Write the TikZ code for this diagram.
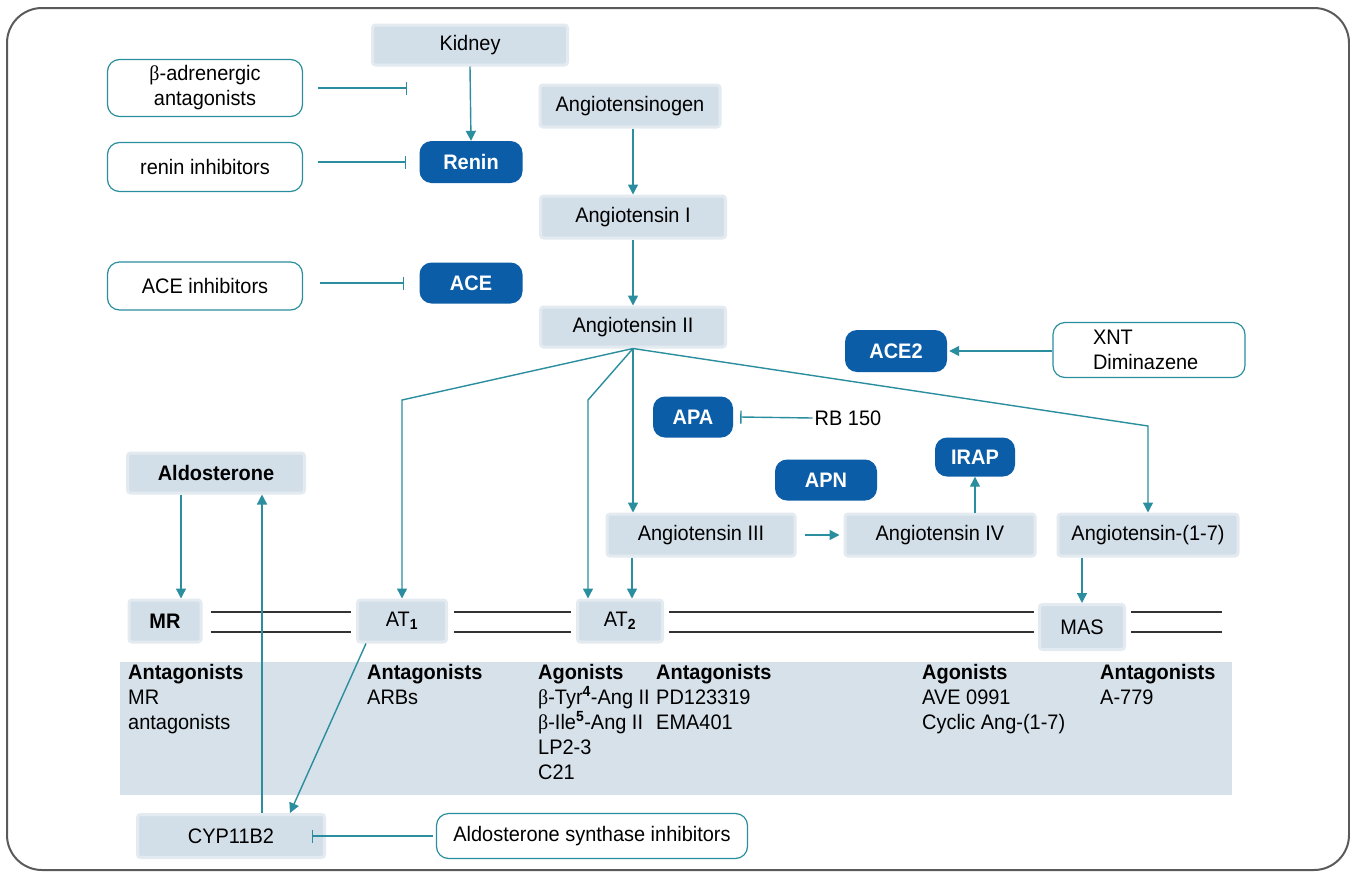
\documentclass[tikz,border=0pt]{standalone}
\usepackage{fontspec}
\setmainfont{Liberation Sans}[FakeStretch=0.95]
\newfontfamily\grk{Liberation Serif}[FakeStretch=0.95]
\usetikzlibrary{arrows.meta}
\newcommand\labelsize{\fontsize{21}{25}\selectfont}
\definecolor{enzyme}{HTML}{0B5DA8}
\definecolor{flow}{HTML}{2A8E9E}
\definecolor{pale}{HTML}{D3DFE8}
\definecolor{palehalo}{HTML}{E3EBF1}
\definecolor{panelfill}{HTML}{D6E1EA}
\definecolor{framecol}{HTML}{5A5A5A}
\tikzset{
  lbox/.style={fill=pale, draw=palehalo, line width=3pt, rounded corners=3pt,
    inner sep=0pt, align=center},
  dbox/.style={fill=enzyme, text=white, font=\labelsize\bfseries, rounded corners=12pt,
    inner sep=0pt, align=center},
  obox/.style={draw=flow, line width=1.2pt, fill=white, rounded corners=12pt,
    inner sep=0pt, align=center},
  arr/.style={draw=flow, line width=1.4pt, -{Triangle[length=10pt,width=10pt]}},
  inh/.style={draw=flow, line width=1.4pt, -{Bar[width=13pt,line width=1.4pt]}},
  memb/.style={draw=black!80, line width=1.4pt},
  coltext/.style={anchor=north west, align=left, inner sep=0pt}
}
\begin{document}
\begin{tikzpicture}[x=1pt, y=-1pt, font=\labelsize]
\useasboundingbox (0,0) rectangle (1350,873);
\fill[white] (0,0) rectangle (1350,873);
\draw[framecol, line width=2pt, rounded corners=35pt] (7,8) rectangle (1349,870);

% lower panel of receptor ligands
\fill[panelfill] (120,662) rectangle (1232,795);

% renin / ACE axis
\node[lbox, minimum width=195pt, minimum height=40pt] (kidney) at (470,45) {Kidney};
\node[obox, minimum width=195pt, minimum height=57pt] (beta) at (205,88) {{\grk β}-adrenergic\\antagonists};
\node[obox, minimum width=195pt, minimum height=49pt] (renininh) at (205,167) {renin inhibitors};
\node[dbox, minimum width=103pt, minimum height=42pt] (renin) at (471,162) {Renin};
\node[lbox, minimum width=180pt, minimum height=42pt] (agen) at (630,106) {Angiotensinogen};
\node[lbox, minimum width=185pt, minimum height=42pt] (angI) at (633,217) {Angiotensin I};
\node[obox, minimum width=195pt, minimum height=48pt] (aceinh) at (205,286) {ACE inhibitors};
\node[dbox, minimum width=103pt, minimum height=41pt] (ace) at (471,283) {ACE};
\node[lbox, minimum width=185pt, minimum height=40pt] (angII) at (633,327) {Angiotensin II};
\node[dbox, minimum width=102pt, minimum height=42pt] (ace2) at (896,351) {ACE2};
\node[obox, minimum height=55pt, text width=112pt, inner xsep=40pt, align=left] (xnt) at (1149,350) {XNT\\Diminazene};

% peptidases and metabolites
\node[dbox, minimum width=80pt, minimum height=41pt] (apa) at (693,417) {APA};
\node[inner sep=0pt] (rb) at (848,418) {RB 150};
\node[dbox, minimum width=80pt, minimum height=39pt] (irap) at (975,457) {IRAP};
\node[dbox, minimum width=102pt, minimum height=41pt] (apn) at (826,480) {APN};
\node[lbox, minimum width=177pt, minimum height=40pt, font=\labelsize\bfseries] (aldo) at (216,473) {Aldosterone};
\node[lbox, minimum width=188pt, minimum height=42pt] (angIII) at (701,535) {Angiotensin III};
\node[lbox, minimum width=190pt, minimum height=42pt] (angIV) at (940,535) {Angiotensin IV};
\node[lbox, minimum width=180pt, minimum height=42pt] (ang17) at (1148,535) {Angiotensin-(1-7)};

% membrane with receptors
\coordinate (mtop) at (0,612);
\coordinate (mbot) at (0,632);
\coordinate (mend) at (1222,612);
\node[lbox, minimum width=72pt, minimum height=42pt, font=\labelsize\bfseries] (mr) at (165,621) {MR};
\node[lbox, minimum width=89pt, minimum height=42pt] (at1) at (402,621) {AT\textsubscript{\bfseries 1}};
\node[lbox, minimum width=85pt, minimum height=42pt] (at2) at (620,621) {AT\textsubscript{\bfseries 2}};
\node[lbox, minimum width=85pt, minimum height=45pt] (mas) at (1082,627) {MAS};
\foreach \m in {mtop,mbot}{
  \draw[memb] ([xshift=8pt]mr.east |- \m) -- ([xshift=-5pt]at1.west |- \m);
  \draw[memb] ([xshift=6pt]at1.east |- \m) -- ([xshift=-5pt]at2.west |- \m);
  \draw[memb] ([xshift=5pt]at2.east |- \m) -- ([xshift=-4pt]mas.west |- \m);
  \draw[memb] ([xshift=5pt]mas.east |- \m) -- (mend |- \m);
}

% aldosterone synthesis
\node[lbox, minimum width=187pt, minimum height=43pt] (cyp) at (231,836) {CYP11B2};
\node[obox, minimum width=311pt, minimum height=45pt] (asi) at (592,836) {Aldosterone synthase inhibitors};

% ligand lists
\node[coltext] (l1) at (128,664) {\textbf{Antagonists}\\MR\\antagonists};
\node[coltext] (l2) at (367,664) {\textbf{Antagonists}\\ARBs};
\node[coltext] (l3) at (538,664) {\textbf{Agonists}\\{\grk β}-Tyr\textsuperscript{\bfseries 4}-Ang II\\{\grk β}-Ile\textsuperscript{\bfseries 5}-Ang II\\LP2-3\\C21};
\node[coltext] (l4) at (656,664) {\textbf{Antagonists}\\PD123319\\EMA401};
\node[coltext] (l5) at (922,664) {\textbf{Agonists}\\AVE 0991\\Cyclic Ang-(1-7)};
\node[coltext] (l6) at (1100,664) {\textbf{Antagonists}\\A-779};

% cascade arrows
\coordinate (betaend) at (407,88);
\coordinate (bend) at (0,400);
\coordinate (bendr) at (0,426);
\draw[arr] (kidney.south) -- (renin.north);
\draw[inh] ([xshift=15pt]beta.east) -- (betaend);
\draw[inh] ([xshift=15pt]renininh.east |- renin.west) -- ([xshift=-13pt]renin.west);
\draw[inh] ([xshift=17pt]aceinh.east |- ace.west) -- ([xshift=-15pt]ace.west);
\draw[arr] (angI.north |- agen.south) -- (angI.north);
\draw[arr] (angI.south) -- (angII.north);
\draw[arr] (xnt.west |- ace2.east) -- ([xshift=2pt]ace2.east);
\draw[inh] ([xshift=-2pt]rb.west) -- ([xshift=7pt]apa.east);

% branches from angiotensin II
\draw[arr] (angII.south) -- (at1.north |- bend) -- (at1.north);
\draw[arr] (angII.south) -- ([xshift=-32pt]at2.north |- bend) -- ([xshift=-32pt]at2.north);
\draw[arr] (angII.south) -- (angII.south |- angIII.north);
\draw[arr] (angII.south) -- (ang17.north |- bendr) -- (ang17.north);
\draw[arr] ([xshift=12pt]at2.north |- angIII.south) -- ([xshift=12pt]at2.north);
\draw[arr] ([xshift=8pt]angIII.east) -- ([xshift=-4pt]angIV.west);
\draw[arr] (irap.south |- angIV.north) -- (irap.south);
\draw[arr] (mas.north |- ang17.south) -- (mas.north);

% aldosterone loop
\draw[arr] ([xshift=-35pt]aldo.south) -- ([xshift=-35pt]aldo.south |- mr.north);
\draw[arr] ([xshift=10pt]at1.south west) -- ([xshift=59pt]cyp.north);
\draw[arr] ([xshift=31pt]cyp.north) -- ([xshift=31pt]cyp.north |- aldo.south);
\draw[inh] ([xshift=-3pt]asi.west) -- ([xshift=-14pt]cyp.east);
\end{tikzpicture}
\end{document}
